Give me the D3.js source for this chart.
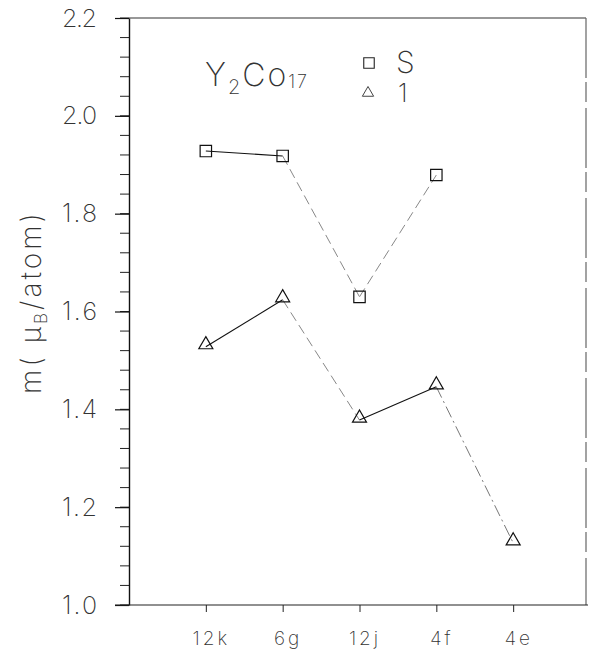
<!DOCTYPE html>
<html>
<head>
<meta charset="utf-8">
<script src="https://cdn.jsdelivr.net/npm/d3@7"></script>
<style>
  body { margin: 0; background: #fff; }
  svg text { font-family: Inter, "DejaVu Sans", sans-serif; font-weight: 200; fill: #333; }
</style>
</head>
<body>
<script>
// site labels along the x axis
var sites = ['12k', '6g', '12j', '4f', '4e'];
// moments per site
var momentS = [1.928, 1.918, 1.630, 1.879];
var moment1 = [1.528, 1.624, 1.378, 1.446, 1.127];
var yMajor = [1.0, 1.2, 1.4, 1.6, 1.8, 2.0, 2.2];

var width = 592, height = 655;
var plot = { left: 129, right: 586, top: 18, bottom: 605 };

var svg = d3.select('body').append('svg')
  .attr('width', width)
  .attr('height', height);

var xScale = d3.scaleLinear().domain([0, 6]).range([plot.left, 590]);
var yScale = d3.scaleLinear().domain([1.0, 2.2]).range([plot.bottom, plot.top]);

// frame: top and right, right one broken like the scan
svg.append('line')
  .attr('x1', plot.left).attr('x2', plot.right).attr('y1', plot.top).attr('y2', plot.top)
  .attr('stroke', '#333').attr('stroke-width', 1.2);
svg.append('line')
  .attr('x1', plot.right).attr('x2', plot.right).attr('y1', plot.top).attr('y2', plot.bottom)
  .attr('stroke', '#666').attr('stroke-width', 1.2)
  .attr('stroke-dasharray', '60,4,20,6');

// minor y ticks, 4 between each pair of labels
var minorTicks = d3.range(0, 31).map(function(i) { return 1.0 + i * 0.04; });
svg.append('g')
  .selectAll('line')
  .data(minorTicks)
  .enter().append('line')
  .attr('x1', plot.left - 9)
  .attr('x2', plot.left)
  .attr('y1', function(d) { return yScale(d); })
  .attr('y2', function(d) { return yScale(d); })
  .attr('stroke', '#222')
  .attr('stroke-width', 1);

// major y ticks + labels
var yAxis = svg.append('g')
  .attr('transform', `translate(${plot.left}, 0)`)
  .call(d3.axisLeft(yScale)
    .tickValues(yMajor)
    .tickSize(14)
    .tickSizeOuter(0)
    .tickPadding(18)
    .tickFormat(d3.format('.1f')));
yAxis.select('.domain').attr('stroke', '#111').attr('stroke-width', 1.4);
yAxis.selectAll('line').attr('stroke', '#111').attr('stroke-width', 1.2);
yAxis.selectAll('text')
  .attr('font-size', 25)
  .attr('textLength', 35)
  .attr('lengthAdjust', 'spacing')
  .attr('fill', '#444');

// x axis
var xAxis = svg.append('g')
  .attr('transform', `translate(0, ${plot.bottom})`)
  .call(d3.axisBottom(xScale)
    .tickValues(sites.map(function(d, i) { return i + 1; }))
    .tickSize(7)
    .tickSizeOuter(0)
    .tickPadding(20)
    .tickFormat(function(d) { return sites[d - 1]; }));
xAxis.select('.domain')
  .attr('d', `M${plot.left - 14},0H${plot.right + 2}`)
  .attr('stroke', '#222').attr('stroke-width', 1.2);
xAxis.selectAll('line').attr('stroke', '#222');
xAxis.selectAll('text')
  .attr('font-size', 19)
  .attr('dx', 5)
  .style('letter-spacing', '3px')
  .attr('fill', '#444');

// y axis title
svg.append('text')
  .attr('transform', 'translate(41, 302) rotate(-90)')
  .attr('text-anchor', 'middle')
  .attr('font-size', 28)
  .style('letter-spacing', '3px')
  .attr('fill', '#333')
  .html('m( μ<tspan font-size="17" dy="6">B</tspan><tspan dy="-6">/atom)</tspan>');

// segments between points: solid black or grey dashed
var segStyle = {
  solid: { stroke: '#111', dash: null, w: 1.1 },
  dash: { stroke: '#888', dash: '10,5', w: 1 },
  dashdot: { stroke: '#777', dash: '12,4,2,4', w: 1 }
};

function drawSeries(values, styles) {
  var pts = values.map(function(v, i) { return [xScale(i + 1), yScale(v)]; });
  for (var i = 0; i < pts.length - 1; i++) {
    var s = segStyle[styles[i]];
    svg.append('path')
      .attr('d', d3.line()([pts[i], pts[i + 1]]))
      .attr('fill', 'none')
      .attr('stroke', s.stroke)
      .attr('stroke-width', s.w)
      .attr('stroke-dasharray', s.dash);
  }
  return pts;
}

drawSeries(momentS, ['solid', 'dash', 'dash']);
drawSeries(moment1, ['solid', 'dash', 'solid', 'dashdot']);

var sq = d3.symbol().type(d3.symbolSquare).size(130);
var tri = d3.symbol().type(d3.symbolTriangle).size(85);

svg.selectAll('.sq')
  .data(momentS)
  .enter().append('path')
  .attr('class', 'sq')
  .attr('transform', function(d, i) { return `translate(${xScale(i + 1)}, ${yScale(d)})`; })
  .attr('d', sq)
  .attr('fill', 'none')
  .attr('stroke', '#111')
  .attr('stroke-width', 1.2);

svg.selectAll('.tri')
  .data(moment1)
  .enter().append('path')
  .attr('class', 'tri')
  .attr('transform', function(d, i) { return `translate(${xScale(i + 1)}, ${yScale(d) - 2})`; })
  .attr('d', tri)
  .attr('fill', 'none')
  .attr('stroke', '#111')
  .attr('stroke-width', 1.2);

// compound label
svg.append('text')
  .attr('x', 205).attr('y', 86)
  .attr('font-size', 32)
  .style('letter-spacing', '2px')
  .html('Y<tspan font-size="20" dy="8">2</tspan><tspan dy="-8">Co</tspan><tspan font-size="18" dy="2">17</tspan>');

// legend
svg.append('path')
  .attr('transform', 'translate(369, 63)')
  .attr('d', d3.symbol().type(d3.symbolSquare).size(110))
  .attr('fill', 'none').attr('stroke', '#222').attr('stroke-width', 1.1);
svg.append('path')
  .attr('transform', 'translate(368, 93)')
  .attr('d', d3.symbol().type(d3.symbolTriangle).size(55))
  .attr('fill', 'none').attr('stroke', '#444').attr('stroke-width', 1);
svg.append('text')
  .attr('x', 396).attr('y', 73)
  .attr('font-size', 30)
  .text('S');
svg.append('text')
  .attr('x', 398).attr('y', 102)
  .attr('font-size', 25)
  .text('1');
</script>
</body>
</html>
